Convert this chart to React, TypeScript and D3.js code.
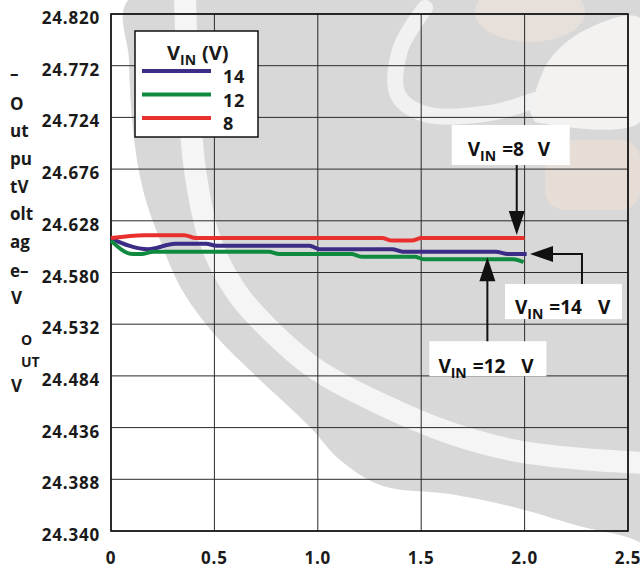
import React from "react";
import * as d3 from "d3";

// ---------- data ----------
const X_TICKS = [0, 0.5, 1.0, 1.5, 2.0, 2.5];
const X_TICK_LABELS = ["0", "0.5", "1.0", "1.5", "2.0", "2.5"];
const Y_TICKS = [24.34, 24.388, 24.436, 24.484, 24.532, 24.58, 24.628, 24.676, 24.724, 24.772, 24.82];
const Y_TICK_LABELS = ["24.340", "24.388", "24.436", "24.484", "24.532", "24.580", "24.628", "24.676", "24.724", "24.772", "24.820"];

const VIN14: [number, number][] = [
  [0, 24.6115], [0.18, 24.6016], [0.31, 24.6067], [0.46, 24.6067], [0.51, 24.6048],
  [0.96, 24.6048], [1.01, 24.6016], [1.36, 24.6016], [1.41, 24.5993], [1.86, 24.5993],
  [1.92, 24.5971], [2.01, 24.5971],
];
const VIN12: [number, number][] = [
  [0, 24.6096], [0.105, 24.5971], [0.147, 24.5971], [0.205, 24.5993], [0.763, 24.5993],
  [0.813, 24.5971], [1.162, 24.5971], [1.212, 24.5946], [1.47, 24.5946], [1.512, 24.5923],
  [1.945, 24.5923], [1.995, 24.5897],
];
const VIN8: [number, number][] = [
  [0, 24.612], [0.16, 24.6147], [0.355, 24.6147], [0.41, 24.612], [1.31, 24.612],
  [1.36, 24.6096], [1.455, 24.6096], [1.5, 24.612], [2.0, 24.612],
];

const SERIES_NAMES = ["14", "12", "8"];
const SERIES_COLORS = ["#3c2c86", "#0f8a3f", "#e8302e"];
const SERIES_DATA = [VIN14, VIN12, VIN8];

// annotation anchors (data space)
const ANN_8 = { label: "=8", x: 1.962, y: 24.612 };
const ANN_14 = { label: "=14", x: 2.026, y: 24.5971 };
const ANN_12 = { label: "=12", x: 1.82, y: 24.5923 };

const Y_TITLE = [
  { t: "–", x: 10, y: 80, s: 17 },
  { t: "O", x: 10, y: 110, s: 17 },
  { t: "ut", x: 10, y: 137, s: 17 },
  { t: "pu", x: 10, y: 165, s: 17 },
  { t: "tV", x: 10, y: 193, s: 17 },
  { t: "olt", x: 10, y: 220, s: 17 },
  { t: "ag", x: 10, y: 248, s: 17 },
  { t: "e–", x: 10, y: 277, s: 17 },
  { t: "V", x: 11, y: 304, s: 17 },
  { t: "O", x: 21, y: 345, s: 14 },
  { t: "UT", x: 21, y: 367, s: 14 },
  { t: "V", x: 11, y: 392, s: 17 },
];

// watermark (decorative background) outline points
const WM_OUTER: [number, number][] = [
  [640, -2], [130, -2], [129, 60], [133, 130], [143, 190], [160, 240], [182, 290], [215, 335],
  [257, 377], [310, 427], [340, 460], [383, 486], [450, 494], [517, 508], [583, 527], [627, 537], [645, 545],
];
const WM_BAND: [number, number][] = [
  [185, -5], [188, 80], [195, 170], [210, 240], [235, 290], [270, 330], [317, 370], [383, 405],
  [450, 433], [517, 451], [583, 459], [645, 463],
];
const WM_CRESCENT: [number, number][] = [
  [425, 8], [400, 50], [398, 95], [425, 114], [490, 113], [535, 100],
];
const WM_LIGHT: [number, number][] = [
  [530, 112], [548, 62], [585, 30], [640, 18], [640, 122], [535, 122],
];

const W = 640, H = 569;
const L = 111, R = 628, T = 14, B = 531;
const FONT = "'Open Sans', 'Liberation Sans', sans-serif";

export default function App() {
  const x = d3.scaleLinear().domain([0, 2.5]).range([L, R]);
  const y = d3.scaleLinear().domain([24.34, 24.82]).range([B, T]);
  const line = d3.line<[number, number]>().x(d => x(d[0])).y(d => y(d[1])).curve(d3.curveMonotoneX);
  const wmLine = d3.line<[number, number]>().curve(d3.curveCatmullRom);
  const outerPath = wmLine(WM_OUTER) + "Z";

  const arrowDown = (tx: number, ty: number) => `M${tx},${ty} L${tx - 8},${ty - 24} L${tx + 8},${ty - 24} Z`;
  const arrowUp = (tx: number, ty: number) => `M${tx},${ty} L${tx - 8},${ty + 24} L${tx + 8},${ty + 24} Z`;
  const arrowLeft = (tx: number, ty: number) => `M${tx},${ty} L${tx + 23},${ty - 8} L${tx + 23},${ty + 8} Z`;

  const vinText = (xx: number, yy: number, label: string, gap: number) => (
    <text x={xx} y={yy} fontFamily={FONT} fontWeight={700} fontSize={19} fill="#111">
      <tspan>V</tspan>
      <tspan fontSize={14} dy={5}>IN</tspan>
      <tspan dy={-5} dx={6}>{label}</tspan>
      <tspan dx={gap}>V</tspan>
    </text>
  );

  const a8 = { tx: x(ANN_8.x), ty: y(ANN_8.y) - 3 };
  const a14 = { tx: x(ANN_14.x), ty: y(ANN_14.y) };
  const a12 = { tx: x(ANN_12.x), ty: y(ANN_12.y) - 2 };

  return (
    <svg width={W} height={H} style={{ position: "absolute", left: 0, top: 0, background: "#fff" }}>
      {/* watermark */}
      <g>
        <path d={outerPath} fill="#d8d8d8" />
        <path d={wmLine(WM_BAND) || ""} fill="none" stroke="#f5f5f5" strokeWidth={22} />
        <path d={wmLine(WM_CRESCENT) || ""} fill="none" stroke="#f1f1f1" strokeWidth={16} strokeLinecap="round" />
        <path d={wmLine(WM_LIGHT) + "Z"} fill="#f3f2f1" />
        <ellipse cx={530} cy={12} rx={55} ry={30} fill="#e6dfda" />
        <rect x={545} y={140} width={95} height={70} rx={20} fill="#e6ddd7" />
      </g>

      {/* grid */}
      <g stroke="#2a2a2a" strokeWidth={1}>
        {X_TICKS.map((t, i) => (
          <line key={"gx" + i} x1={x(t)} x2={x(t)} y1={T} y2={B} />
        ))}
        {Y_TICKS.map((t, i) => (
          <line key={"gy" + i} x1={L} x2={R} y1={y(t)} y2={y(t)} />
        ))}
      </g>
      <rect x={L} y={T} width={R - L} height={B - T} fill="none" stroke="#111" strokeWidth={1.6} />

      {/* y tick labels */}
      {Y_TICKS.map((t, i) => (
        <text key={"yl" + i} x={100} y={y(t) + 10} textAnchor="end" fontFamily={FONT} fontWeight={700}
          fontSize={17} letterSpacing={0.8} fill="#1a1a1a">{Y_TICK_LABELS[i]}</text>
      ))}
      {/* x tick labels */}
      {X_TICKS.map((t, i) => (
        <text key={"xl" + i} x={x(t)} y={564} textAnchor="middle" fontFamily={FONT} fontWeight={700}
          fontSize={17} letterSpacing={0.8} fill="#1a1a1a">{X_TICK_LABELS[i]}</text>
      ))}

      {/* y axis title fragments */}
      {Y_TITLE.map((d, i) => (
        <text key={"yt" + i} x={d.x} y={d.y} fontFamily={FONT} fontWeight={700} fontSize={d.s} fill="#1a1a1a">{d.t}</text>
      ))}

      {/* series */}
      {SERIES_DATA.map((s, i) => (
        <path key={"s" + i} d={line(s) || ""} fill="none" stroke={SERIES_COLORS[i]} strokeWidth={4} strokeLinejoin="round" />
      ))}

      {/* legend */}
      <rect x={135} y={31} width={123} height={106} fill="#fff" stroke="#111" strokeWidth={1.5} />
      <text x={167} y={60} fontFamily={FONT} fontWeight={700} fontSize={20} fill="#1a1a1a">
        <tspan>V</tspan>
        <tspan fontSize={14} dy={5}>IN</tspan>
        <tspan dy={-5} dx={6}>(V)</tspan>
      </text>
      {SERIES_NAMES.map((n, i) => (
        <g key={"lg" + i}>
          <line x1={142} x2={211} y1={71 + i * 23.5} y2={71 + i * 23.5} stroke={SERIES_COLORS[i]} strokeWidth={4} />
          <text x={223} y={83 + i * 23.5} fontFamily={FONT} fontWeight={700} fontSize={18} letterSpacing={0.8} fill="#1a1a1a">{n}</text>
        </g>
      ))}

      {/* annotation: 8 V */}
      <rect x={a8.tx - 65} y={a8.ty - 110} width={118} height={40} fill="#fff" />
      {vinText(a8.tx - 49, a8.ty - 79, ANN_8.label, 14)}
      <line x1={a8.tx} x2={a8.tx} y1={a8.ty - 70} y2={a8.ty - 22} stroke="#111" strokeWidth={2} />
      <path d={arrowDown(a8.tx, a8.ty)} fill="#111" />

      {/* annotation: 14 V */}
      <rect x={a14.tx - 25} y={a14.ty + 30} width={117} height={35} fill="#fff" />
      {vinText(a14.tx - 15, a14.ty + 60, ANN_14.label, 16)}
      <polyline points={`${a14.tx + 52},${a14.ty + 30} ${a14.tx + 52},${a14.ty} ${a14.tx + 21},${a14.ty}`} fill="none" stroke="#111" strokeWidth={2} />
      <path d={arrowLeft(a14.tx, a14.ty)} fill="#111" />

      {/* annotation: 12 V */}
      <rect x={a12.tx - 58} y={a12.ty + 84} width={117} height={35} fill="#fff" />
      {vinText(a12.tx - 49, a12.ty + 116, ANN_12.label, 16)}
      <line x1={a12.tx} x2={a12.tx} y1={a12.ty + 84} y2={a12.ty + 22} stroke="#111" strokeWidth={2} />
      <path d={arrowUp(a12.tx, a12.ty)} fill="#111" />
    </svg>
  );
}
